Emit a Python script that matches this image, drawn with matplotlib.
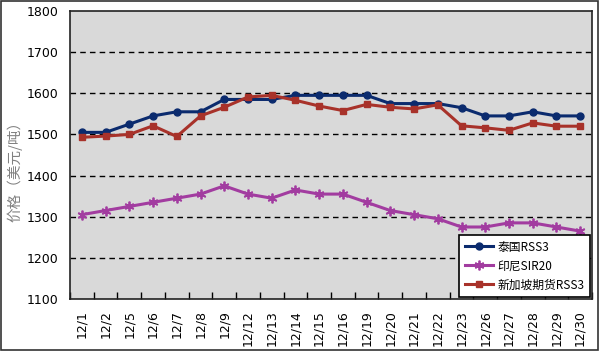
import matplotlib
matplotlib.use("Agg")
import matplotlib.pyplot as plt
from matplotlib.patches import Rectangle

plt.rcParams['font.family'] = ['DejaVu Sans', 'Noto Sans CJK SC']

dates = ["12/1", "12/2", "12/5", "12/6", "12/7", "12/8", "12/9", "12/12", "12/13", "12/14",
         "12/15", "12/16", "12/19", "12/20", "12/21", "12/22", "12/23", "12/26", "12/27",
         "12/28", "12/29", "12/30"]
thai_rss3 = [1505, 1505, 1525, 1545, 1555, 1555, 1585, 1585, 1585, 1595, 1595, 1595, 1595,
             1575, 1575, 1575, 1565, 1545, 1545, 1555, 1545, 1545]
indo_sir20 = [1305, 1315, 1325, 1335, 1345, 1355, 1375, 1355, 1345, 1365, 1355, 1355, 1335,
              1315, 1305, 1295, 1275, 1275, 1285, 1285, 1275, 1265]
sg_rss3 = [1493, 1496, 1500, 1521, 1495, 1545, 1566, 1591, 1595, 1583, 1569, 1558, 1573,
           1566, 1562, 1572, 1521, 1516, 1510, 1528, 1520, 1520]
labels = ["泰国RSS3", "印尼SIR20", "新加坡期货RSS3"]
yticks = [1100, 1200, 1300, 1400, 1500, 1600, 1700, 1800]

fig = plt.figure(figsize=(6, 3.51), dpi=100)
ax = fig.add_axes([70/600, 52/351, 522/600, 288/351])
ax.set_facecolor('#d9d9d9')

x = list(range(len(dates)))
ax.plot(x, thai_rss3, color='#0b2b6e', lw=2.2, marker='o', ms=5, label=labels[0], zorder=3)
ax.plot(x, indo_sir20, color='#a23ca0', lw=2.2, marker=(6, 2, 0), ms=7, mew=1.3, label=labels[1], zorder=3)
ax.plot(x, sg_rss3, color='#a8322a', lw=2.2, marker='s', ms=5, label=labels[2], zorder=3)

ax.set_xlim(-0.5, len(dates) - 0.5)
ax.set_ylim(1100, 1800)
ax.set_yticks(yticks)
ax.set_yticklabels([str(v) for v in yticks], fontsize=9)
ax.tick_params(axis='y', length=0, pad=8)
for v in yticks[1:-1]:
    ax.axhline(v, color='black', lw=1, ls=(0, (4, 3)), zorder=1)

ax.set_xticks(x)
ax.set_xticklabels(dates, rotation=90, fontsize=9)
ax.set_xticks([i - 0.5 for i in range(len(dates) + 1)], minor=True)
ax.tick_params(axis='x', which='major', length=0, pad=8)
ax.tick_params(axis='x', which='minor', direction='in', length=5, width=1)

for s in ax.spines.values():
    s.set_color('#222222')
    s.set_linewidth(1.2)

fig.text(15/600, 1 - 168/351, "价格（美元/吨）", color='#808080', fontsize=10.5, rotation=90,
         ha='center', va='center', family=['Noto Sans CJK SC', 'DejaVu Sans'])

leg = ax.legend(loc='lower right', bbox_to_anchor=(0.996, 0.008), borderaxespad=0,
                frameon=True, fancybox=False,
                edgecolor='black', framealpha=1, handlelength=2.4, handletextpad=0.4,
                borderpad=0.45, labelspacing=0.5,
                prop={'family': ['Noto Sans CJK SC', 'DejaVu Sans'], 'size': 8.5})
leg.get_frame().set_linewidth(1.2)

fig.patches.append(Rectangle((0.002, 0.003), 0.994, 0.994, transform=fig.transFigure,
                             fill=False, edgecolor='#333333', lw=1.2))

fig.savefig("out.png", dpi=100)
